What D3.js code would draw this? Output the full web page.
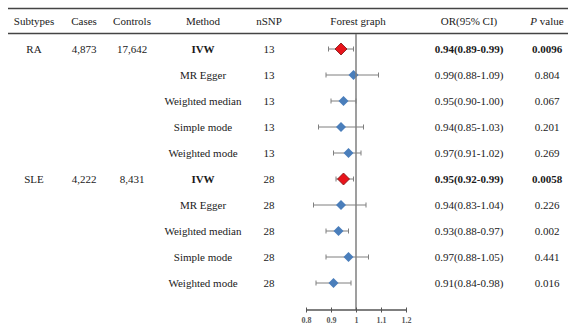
<!DOCTYPE html>
<html>
<head>
<meta charset="utf-8">
<script src="https://cdn.jsdelivr.net/npm/d3@7"></script>
<style>
  body { margin: 0; background: #fff; }
  text { font-family: "Liberation Serif", "Times New Roman", serif; }
</style>
</head>
<body>
<div id="chart"></div>
<script>
var subtypes = ["RA", "SLE"];
var cases = ["4,873", "4,222"];
var controls = ["17,642", "8,431"];
var methods = ["IVW", "MR Egger", "Weighted median", "Simple mode", "Weighted mode"];
var nsnp = [13, 28];
var orValues = [0.94, 0.99, 0.95, 0.94, 0.97, 0.95, 0.94, 0.93, 0.97, 0.91];
var ciLow = [0.89, 0.88, 0.90, 0.85, 0.91, 0.92, 0.83, 0.88, 0.88, 0.84];
var ciHigh = [0.99, 1.09, 1.00, 1.03, 1.02, 0.99, 1.04, 0.97, 1.05, 0.98];
var pValues = ["0.0096", "0.804", "0.067", "0.201", "0.269", "0.0058", "0.226", "0.002", "0.441", "0.016"];
var xTicks = [0.8, 0.9, 1, 1.1, 1.2];

var width = 568, height = 325;

var rows = [];
orValues.forEach(function(v, i) {
  var g = Math.floor(i / methods.length);
  var m = i % methods.length;
  rows.push({
    first: m === 0,
    subtype: subtypes[g],
    cases: cases[g],
    controls: controls[g],
    method: methods[m],
    nsnp: nsnp[g],
    or: v,
    lo: ciLow[i],
    hi: ciHigh[i],
    p: pValues[i]
  });
});

var svg = d3.select("#chart").append("svg")
  .attr("width", width)
  .attr("height", height);

var y = d3.scaleBand()
  .domain(d3.range(rows.length))
  .range([36, 296]);

var x = d3.scaleLinear()
  .domain([0.8, 1.2])
  .range([306, 406]);

// column centres
var cols = { subtype: 34, cases: 84, controls: 132, method: 203, nsnp: 269, forest: 358, or: 469, p: 547 };

// table rules
svg.append("line").attr("x1", 8).attr("x2", width).attr("y1", 8.5).attr("y2", 8.5)
  .attr("stroke", "#444").attr("stroke-width", 1.3);
svg.append("line").attr("x1", 8).attr("x2", width).attr("y1", 33.5).attr("y2", 33.5)
  .attr("stroke", "#444").attr("stroke-width", 1.3);

// header
var header = svg.append("g").attr("font-size", 11).attr("fill", "#1a1a1a");
[["Subtypes", cols.subtype], ["Cases", cols.cases], ["Controls", cols.controls],
 ["Method", cols.method], ["nSNP", cols.nsnp], ["Forest graph", cols.forest],
 ["OR(95% CI)", cols.or]].forEach(function(h) {
  header.append("text").attr("x", h[1]).attr("y", 25)
    .attr("text-anchor", "middle").text(h[0]);
});
var pv = header.append("text").attr("x", cols.p).attr("y", 25).attr("text-anchor", "middle");
pv.append("tspan").attr("font-style", "italic").text("P");
pv.append("tspan").text("  value");

// table body
var body = svg.append("g").attr("font-size", 11).attr("fill", "#1a1a1a");
var row = body.selectAll("g.row").data(rows).enter().append("g")
  .attr("class", "row")
  .attr("transform", function(d, i) { return "translate(0," + (y(i) + y.bandwidth() / 2) + ")"; });

function cell(key, getter, boldIVW) {
  row.append("text")
    .attr("x", cols[key])
    .attr("dy", "0.35em")
    .attr("text-anchor", "middle")
    .attr("font-weight", function(d) { return boldIVW && d.first ? "bold" : null; })
    .text(getter);
}
cell("subtype", function(d) { return d.first ? d.subtype : ""; }, false);
cell("cases", function(d) { return d.first ? d.cases : ""; }, false);
cell("controls", function(d) { return d.first ? d.controls : ""; }, false);
cell("method", function(d) { return d.method; }, true);
cell("nsnp", function(d) { return d.nsnp; }, false);
cell("or", function(d) { return d3.format(".2f")(d.or) + "(" + d3.format(".2f")(d.lo) + "-" + d3.format(".2f")(d.hi) + ")"; }, true);
cell("p", function(d) { return d.p; }, true);

// forest graph
var axisY = 310;
svg.append("line")
  .attr("x1", x(1)).attr("x2", x(1))
  .attr("y1", 34).attr("y2", axisY)
  .attr("stroke", "#7f7f7f").attr("stroke-width", 1.5);

var ci = row.append("g").attr("stroke", "#7f7f7f").attr("stroke-width", 1);
ci.append("line")
  .attr("x1", function(d) { return x(d.lo); })
  .attr("x2", function(d) { return x(d.hi); });
ci.append("line")
  .attr("x1", function(d) { return x(d.lo); }).attr("x2", function(d) { return x(d.lo); })
  .attr("y1", -2.5).attr("y2", 2.5);
ci.append("line")
  .attr("x1", function(d) { return x(d.hi); }).attr("x2", function(d) { return x(d.hi); })
  .attr("y1", -2.5).attr("y2", 2.5);

row.append("path")
  .attr("transform", function(d) { return "translate(" + x(d.or) + ",0)"; })
  .attr("d", function(d) { var r = d.first ? 6 : 5; return "M0," + (-r) + "L" + r + ",0L0," + r + "L" + (-r) + ",0Z"; })
  .attr("fill", function(d) { return d.first ? "#e8141b" : "#4a7ebb"; })
  .attr("stroke", function(d) { return d.first ? "#7a1010" : "none"; })
  .attr("stroke-width", 0.8);

// axis
var axis = svg.append("g")
  .attr("transform", "translate(0," + axisY + ")")
  .call(d3.axisBottom(x).tickValues(xTicks).tickSize(3).tickFormat(d3.format("")));
axis.select(".domain").attr("stroke", "#555").attr("stroke-width", 1.3).attr("d", "M" + x(0.8) + ",0H" + x(1.2));
axis.selectAll(".tick line").attr("y1", -2.5).attr("y2", 2.5).attr("stroke", "#555");
axis.selectAll(".tick text")
  .attr("y", 7)
  .attr("font-family", "Liberation Sans, Arial, sans-serif")
  .attr("font-size", 8)
  .attr("font-weight", "bold")
  .attr("fill", "#595959");
</script>
</body>
</html>
